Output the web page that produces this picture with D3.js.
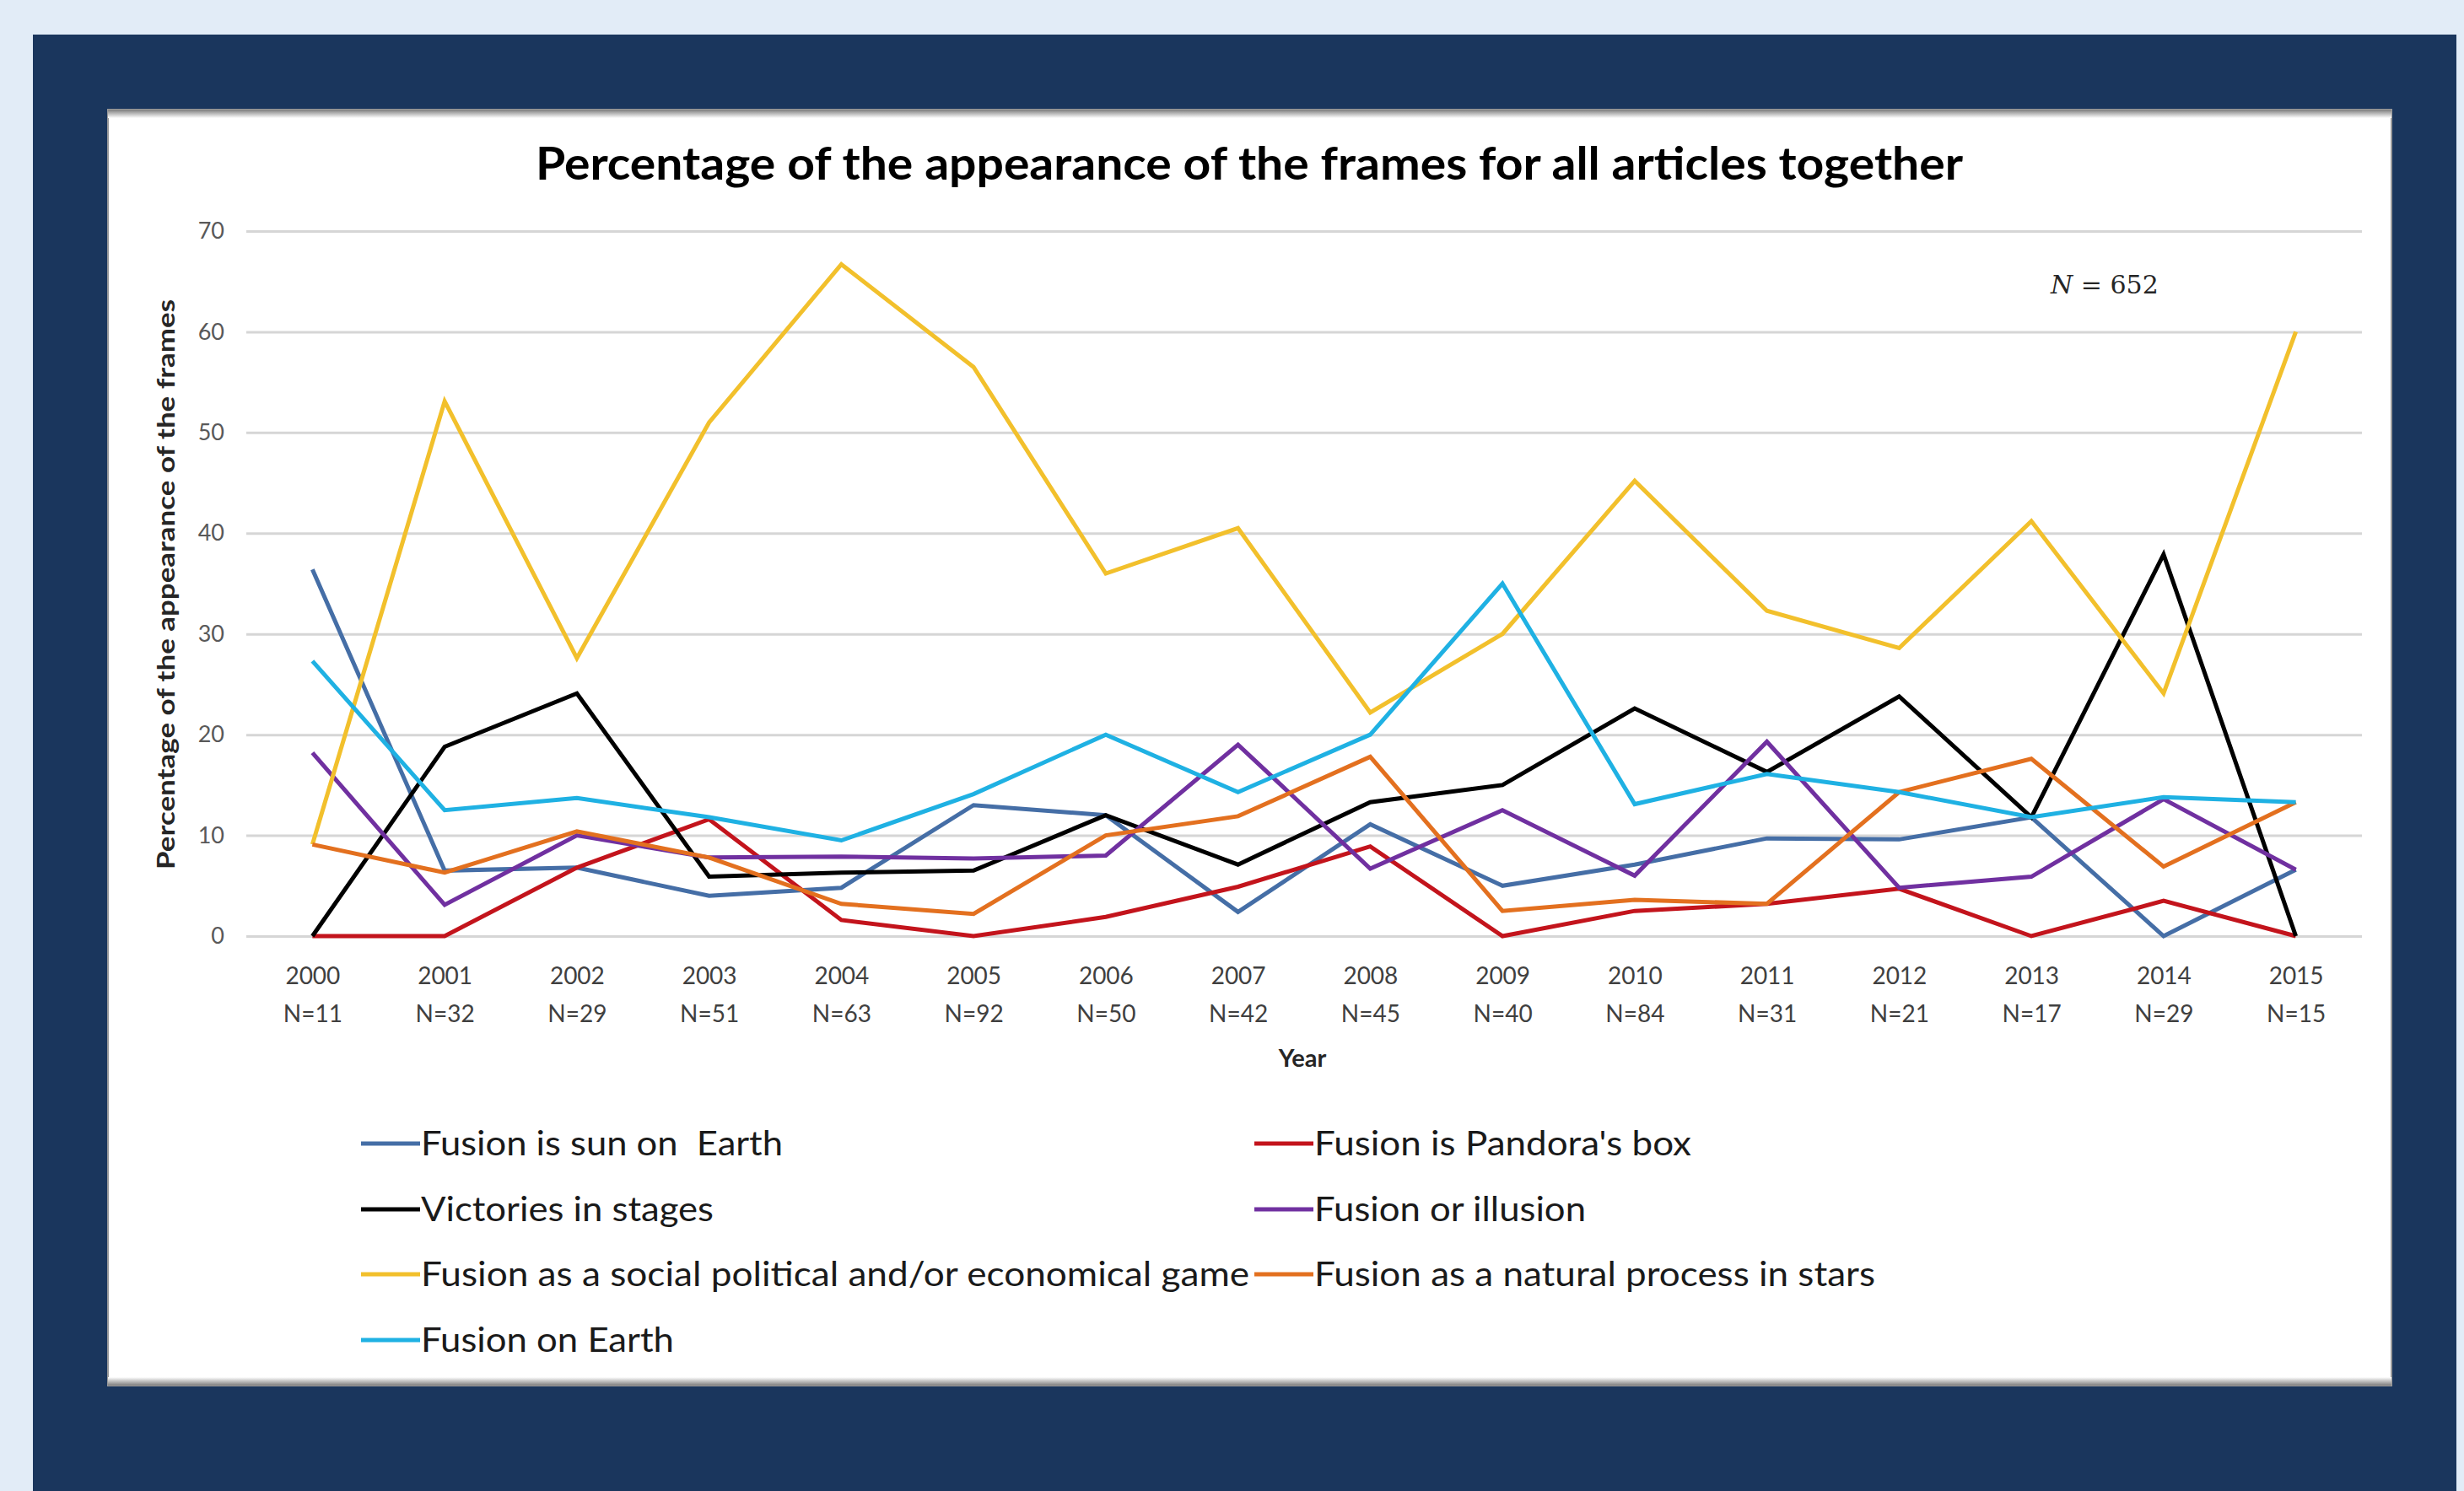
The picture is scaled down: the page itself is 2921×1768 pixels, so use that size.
<!DOCTYPE html>
<html>
<head>
<meta charset="utf-8">
<script src="https://cdn.jsdelivr.net/npm/d3@7"></script>
<style>
  html, body { margin: 0; padding: 0; background: #e2ecf7; }
  svg { display: block; }
  text { white-space: pre; }
</style>
</head>
<body>
<svg id="chart" width="2921" height="1768"></svg>
<script>
// ---------- DATA ----------
const years = ["2000","2001","2002","2003","2004","2005","2006","2007","2008","2009","2010","2011","2012","2013","2014","2015"];
const counts = ["N=11","N=32","N=29","N=51","N=63","N=92","N=50","N=42","N=45","N=40","N=84","N=31","N=21","N=17","N=29","N=15"];
const yTicks = [0, 10, 20, 30, 40, 50, 60, 70];

const sunOnEarth   = [36.4, 6.5, 6.8, 4.0, 4.8, 13.0, 12.0, 2.4, 11.1, 5.0, 7.1, 9.7, 9.6, 11.8, 0.0, 6.6];
const pandorasBox  = [0.0, 0.0, 6.8, 11.6, 1.6, 0.0, 1.9, 4.9, 8.9, 0.0, 2.5, 3.2, 4.7, 0.0, 3.5, 0.0];
const victories    = [0.0, 18.8, 24.1, 5.9, 6.3, 6.5, 12.0, 7.1, 13.3, 15.0, 22.6, 16.3, 23.8, 11.8, 37.9, 0.0];
const illusion     = [18.2, 3.1, 10.0, 7.8, 7.9, 7.7, 8.0, 19.0, 6.7, 12.5, 6.0, 19.3, 4.8, 5.9, 13.6, 6.6];
const socialGame   = [9.1, 53.1, 27.6, 51.0, 66.7, 56.5, 36.0, 40.5, 22.2, 30.0, 45.2, 32.3, 28.6, 41.2, 24.1, 60.0];
const naturalStars = [9.1, 6.3, 10.4, 7.8, 3.2, 2.2, 10.0, 11.9, 17.8, 2.5, 3.6, 3.2, 14.3, 17.6, 6.9, 13.3];
const onEarth      = [27.3, 12.5, 13.7, 11.8, 9.5, 14.1, 20.0, 14.3, 20.0, 35.0, 13.1, 16.1, 14.3, 11.8, 13.8, 13.3];

const seriesNames = [
  "Fusion is sun on  Earth", "Fusion is Pandora's box", "Victories in stages", "Fusion or illusion",
  "Fusion as a social political and/or economical game", "Fusion as a natural process in stars", "Fusion on Earth"
];
const seriesValues = [sunOnEarth, pandorasBox, victories, illusion, socialGame, naturalStars, onEarth];
const seriesColors = ["#456ea6", "#c3141c", "#000000", "#7030a0", "#f2c02c", "#e3701f", "#1fb1e3"];

// ---------- LAYOUT ----------
const svg = d3.select("#chart");
const font = "Lato, 'Open Sans', 'Noto Sans', sans-serif";

// navy frame
svg.append("rect").attr("x", 39).attr("y", 41).attr("width", 2873).attr("height", 1727).attr("fill", "#1a365d");

// white chart panel with soft grey edges
const defs = svg.append("defs");
const gT = defs.append("linearGradient").attr("id", "edgeT").attr("x1", 0).attr("y1", 0).attr("x2", 0).attr("y2", 1);
gT.append("stop").attr("offset", "0").attr("stop-color", "#7d7d7d");
gT.append("stop").attr("offset", "1").attr("stop-color", "#ffffff");
const gB = defs.append("linearGradient").attr("id", "edgeB").attr("x1", 0).attr("y1", 0).attr("x2", 0).attr("y2", 1);
gB.append("stop").attr("offset", "0").attr("stop-color", "#ffffff");
gB.append("stop").attr("offset", "1").attr("stop-color", "#7d7d7d");

const panel = {x: 128, y: 130, w: 2707, h: 1513};
svg.append("rect").attr("x", panel.x).attr("y", panel.y).attr("width", panel.w).attr("height", panel.h)
  .attr("fill", "#ffffff").attr("stroke", "#9a9a9a").attr("stroke-width", 2);
svg.append("rect").attr("x", panel.x).attr("y", panel.y).attr("width", panel.w).attr("height", 10).attr("fill", "url(#edgeT)");
svg.append("rect").attr("x", panel.x).attr("y", panel.y + panel.h - 10).attr("width", panel.w).attr("height", 10).attr("fill", "url(#edgeB)");

// scales
const x = d3.scalePoint().domain(years).range([292, 2800]).padding(0.5);
const y = d3.scaleLinear().domain([0, 70]).range([1110, 274]);

// gridlines + y tick labels
const yAxis = d3.axisLeft(y).tickValues(yTicks).tickSize(-(2800 - 292)).tickPadding(26);
const gy = svg.append("g").attr("transform", "translate(292,0)").call(yAxis);
gy.select(".domain").remove();
gy.selectAll(".tick line").attr("stroke", "#d6d6d6").attr("stroke-width", 3);
gy.selectAll(".tick text").attr("font-family", font).attr("font-size", 27).attr("fill", "#595959");

// x axis labels (two lines)
const xAxis = d3.axisBottom(x).tickSize(0).tickFormat("");
const gx = svg.append("g").attr("transform", "translate(0,1110)").call(xAxis);
gx.select(".domain").remove();
gx.selectAll(".tick").each(function(d, i) {
  const t = d3.select(this).append("text").attr("font-family", font).attr("font-size", 28)
    .attr("fill", "#404040").attr("text-anchor", "middle");
  t.append("tspan").attr("x", 0).attr("y", 57).text(d);
  t.append("tspan").attr("x", 0).attr("y", 102).text(counts[i]);
});

// axis titles
svg.append("text").attr("x", 1544).attr("y", 1265).attr("text-anchor", "middle")
  .attr("font-family", font).attr("font-weight", "bold").attr("font-size", 29).attr("fill", "#262626").text("Year");
svg.append("text").attr("transform", "translate(207,693) rotate(-90)").attr("text-anchor", "middle")
  .attr("font-family", font).attr("font-weight", "bold").attr("font-size", 29).attr("fill", "#262626")
  .attr("textLength", 676).attr("lengthAdjust", "spacingAndGlyphs")
  .text("Percentage of the appearance of the frames");

// title
svg.append("text").attr("x", 1481).attr("y", 213).attr("text-anchor", "middle")
  .attr("font-family", font).attr("font-weight", "bold").attr("font-size", 53).attr("fill", "#000000")
  .attr("textLength", 1692).attr("lengthAdjust", "spacingAndGlyphs")
  .text("Percentage of the appearance of the frames for all articles together");

// N annotation
const nt = svg.append("text").attr("x", 2431).attr("y", 348).attr("font-family", "'DejaVu Serif', 'Liberation Serif', serif")
  .attr("font-size", 30).attr("fill", "#262626");
nt.append("tspan").attr("font-style", "italic").text("N");
nt.append("tspan").text(" = 652");

// lines
const line = d3.line().x((d, i) => x(years[i])).y(d => y(d));
seriesValues.forEach((vals, k) => {
  svg.append("path").datum(vals).attr("d", line).attr("fill", "none")
    .attr("stroke", seriesColors[k]).attr("stroke-width", 5).attr("stroke-linejoin", "miter");
});

// legend
const legendPos = [
  {lx: 428, ty: 1356}, {lx: 1487, ty: 1356},
  {lx: 428, ty: 1434}, {lx: 1487, ty: 1434},
  {lx: 428, ty: 1511}, {lx: 1487, ty: 1511},
  {lx: 428, ty: 1589}
];
const legendWidths = [429, 447, 347, 322, 982, 665, 300];
seriesNames.forEach((name, k) => {
  const p = legendPos[k];
  const g = svg.append("g").attr("transform", `translate(${p.lx},${p.ty})`);
  g.append("line").attr("x1", 0).attr("x2", 70).attr("y1", 0).attr("y2", 0)
    .attr("stroke", seriesColors[k]).attr("stroke-width", 5);
  g.append("text").attr("x", 71).attr("y", 0).attr("dy", "0.35em")
    .attr("font-family", font).attr("font-size", 41).attr("fill", "#1a1a1a")
    .attr("textLength", legendWidths[k]).attr("lengthAdjust", "spacingAndGlyphs").text(name);
});
</script>
</body>
</html>
